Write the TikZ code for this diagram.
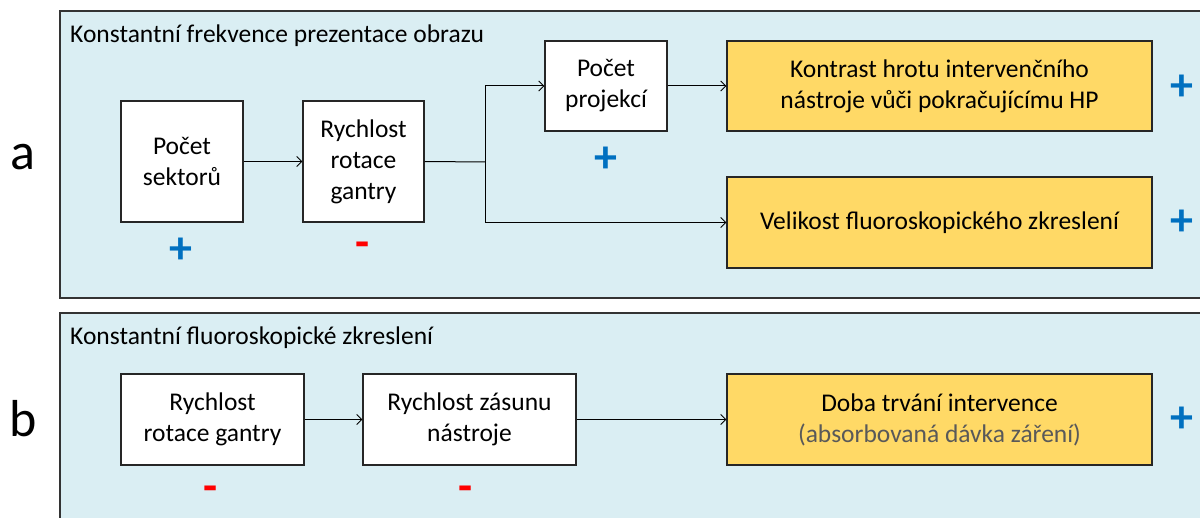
\documentclass[tikz,border=0pt]{standalone}
\usepackage{fontspec}
\setmainfont{Carlito}
\usetikzlibrary{arrows.meta}
\definecolor{panelfill}{HTML}{DAEEF3}
\definecolor{panelline}{HTML}{333333}
\definecolor{outfill}{HTML}{FFD966}
\definecolor{plusblue}{HTML}{0070C0}
\definecolor{minusred}{HTML}{FF0000}
\definecolor{notegray}{HTML}{595959}
\tikzset{
  x=1pt, y=-1pt,
  panel/.style={fill=panelfill, draw=panelline, line width=1.8pt},
  factor/.style={draw=black!85, fill=white, line width=1.4pt, align=center,
    font=\fontsize{25.5}{31}\selectfont, inner sep=0pt},
  result/.style={factor, fill=outfill},
  link/.style={line width=1pt, -{Straight Barb[length=5pt,width=10pt,line width=0.8pt]}},
  plain/.style={line width=1pt},
  plus/.style={text=plusblue, font=\fontsize{46}{46}\selectfont\bfseries, inner sep=0pt},
  minus/.style={text=minusred, font=\fontsize{46}{46}\selectfont\bfseries, inner sep=0pt},
  heading/.style={anchor=base west, font=\fontsize{25.5}{31}\selectfont, inner sep=0pt},
  tag/.style={anchor=base, font=\fontsize{52}{52}\selectfont, inner sep=0pt}
}
\newcommand{\boxat}[6]{% style, name, x1, y1, x2, y2, text
  \node[#1, minimum width={#5-#3}, minimum height={#6-#4}] (#2) at ({(#3+#5)/2},{(#4+#6)/2})}
\begin{document}
\begin{tikzpicture}
\useasboundingbox (0,0) rectangle (1200,518);

% panel a
\draw[panel] (1203,11) -- (60,11) -- (60,298) -- (1203,298);
\node[heading] (ta) at (70,43) {Konstantní frekvence prezentace obrazu};
\node[tag] (la) at (23,170) {a};

\boxat{factor}{sek}{121}{101}{243}{222}{Počet\\sektorů};
\boxat{factor}{rot}{303}{101}{424}{222}{Rychlost\\rotace\\gantry};
\boxat{factor}{proj}{545}{41}{667}{131}{Počet\\projekcí};
\boxat{result}{kon}{727}{41}{1152}{131}{Kontrast hrotu intervenčního\\nástroje vůči pokračujícímu HP};
\boxat{result}{vel}{727}{177}{1152}{268}{Velikost fluoroskopického zkreslení};

\coordinate (split) at (485,162);
\draw[link] (sek.east) -- (rot.west);
\draw[plain] (rot.east) -- (split);
\draw[link] (split) |- (proj.west);
\draw[link] (split) |- (vel.west);
\draw[link] (proj.east) -- (kon.west);

\node[plus] (p1) at (181,251) {+};
\node[minus] (m1) at (363,250) {-};
\node[plus] (p2) at (606,160) {+};
\node[plus] (p3) at (1182,88) {+};
\node[plus] (p4) at (1182,223) {+};

% panel b
\draw[panel] (60,521) -- (60,313) -- (1203,313) -- (1203,521);
\node[heading] (tb) at (70,345) {Konstantní fluoroskopické zkreslení};
\node[tag] (lb) at (23,437) {b};

\boxat{factor}{gan}{121}{374}{304}{465}{Rychlost\\rotace gantry};
\boxat{factor}{zas}{363}{374}{576}{465}{Rychlost zásunu\\nástroje};
\boxat{result}{doba}{727}{374}{1152}{465}{Doba trvání intervence\\\textcolor{notegray}{(absorbovaná dávka záření)}};

\draw[link] (gan.east) -- (zas.west);
\draw[link] (zas.east) -- (doba.west);

\node[minus] (m2) at (211,494) {-};
\node[minus] (m3) at (466,494) {-};
\node[plus] (p5) at (1182,420) {+};
\end{tikzpicture}
\end{document}
